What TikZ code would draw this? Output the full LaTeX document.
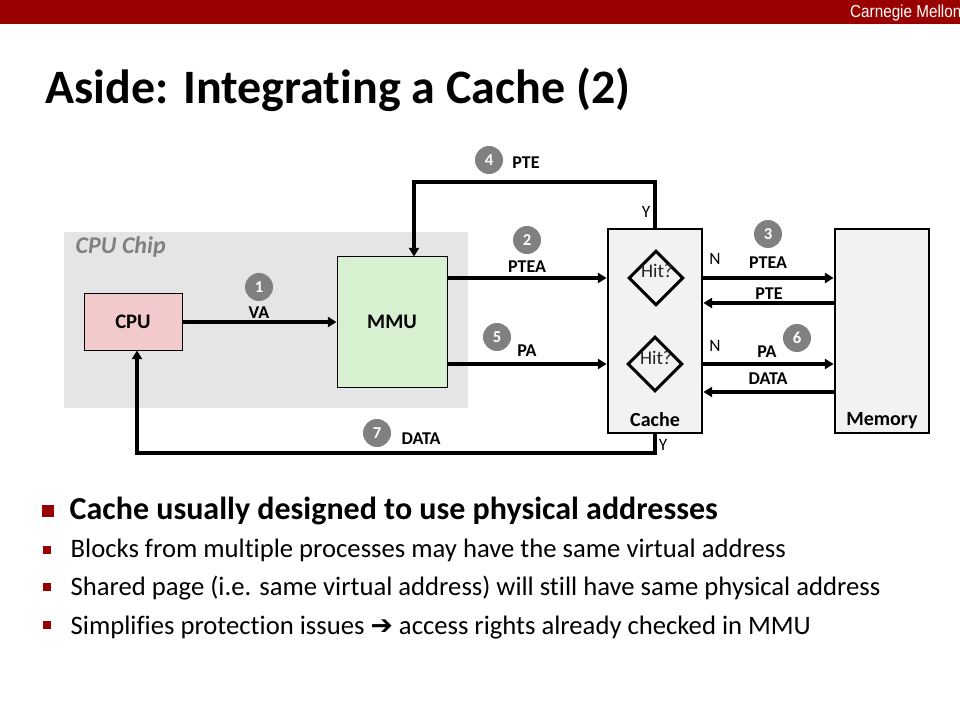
\documentclass[tikz,border=0pt]{standalone}
\usepackage{fontspec}
\setmainfont[Ligatures=NoCommon]{Carlito}
\newfontfamily\cmufont[FakeStretch=0.88]{Liberation Sans}
\newfontfamily\symfont{DejaVu Sans}
\usetikzlibrary{arrows.meta,shapes.geometric}

\definecolor{cmured}{RGB}{153,0,0}
\definecolor{chipgray}{RGB}{229,229,229}
\definecolor{cpupink}{RGB}{242,202,204}
\definecolor{mmugreen}{RGB}{215,240,208}
\definecolor{boxgray}{RGB}{242,242,242}
\definecolor{stepgray}{RGB}{128,128,128}

\tikzset{
  unit/.style={draw, line width=0.75pt, font=\bfseries\fontsize{15.5}{18}\selectfont},
  store/.style={draw, line width=1.6pt, fill=boxgray, minimum width=71pt, minimum height=153pt},
  hit/.style={diamond, draw, line width=2.2pt, aspect=1, minimum size=41pt, inner sep=0pt},
  flow/.style={line width=2.6pt, -{Triangle[length=6.5pt,width=7.5pt]}},
  lab/.style={font=\bfseries\fontsize{13.5}{15}\selectfont},
  yn/.style={font=\fontsize{13}{15}\selectfont},
  stepnum/.style={circle, fill=stepgray, text=white, minimum size=21pt, inner sep=0pt,
    font=\bfseries\fontsize{12.5}{14}\selectfont},
}

\begin{document}
\begin{tikzpicture}[x=0.75pt, y=-0.75pt]
  \fill[white] (0,0) rectangle (960,720);
  \useasboundingbox (0,0) rectangle (960,720);

  % header
  \fill[cmured] (0,0) rectangle (960,24);
  \node[anchor=east, text=white, font=\cmufont\fontsize{13}{15}\selectfont] (cmu) at (966,13) {Carnegie Mellon};
  \node[anchor=base west, font=\bfseries\fontsize{36}{40}\selectfont] (title) at (41,104) {Aside: Integrating a Cache (2)};

  % diagram
  \node[fill=chipgray, minimum width=303pt, minimum height=132pt] (chip) at (266,320) {};
  \node[anchor=west, text=stepgray, font=\bfseries\itshape\fontsize{18}{20}\selectfont] (chiplab) at (71,247) {CPU Chip};
  \node[unit, fill=cpupink, minimum width=73.5pt, minimum height=42pt] (cpu) at (133,322) {CPU};
  \node[unit, fill=mmugreen, minimum width=82.5pt, minimum height=97.5pt] (mmu) at (392,322) {MMU};
  \node[store] (cache) at (655,331) {};
  \node[store] (memory) at (882,331) {};
  \node[lab, font=\bfseries\fontsize{15}{17}\selectfont] (cachelab) at (655,420) {Cache};
  \node[lab, font=\bfseries\fontsize{15}{17}\selectfont] (memlab) at (882,421) {Memory};
  \node[hit] (hit1) at (656,278) {};
  \node[hit] (hit2) at (655,364) {};
  \node[font=\fontsize{14.5}{16}\selectfont, text=black!85] (hittext1) at (657,271) {Hit?};
  \node[font=\fontsize{14.5}{16}\selectfont, text=black!85] (hittext2) at (656,358) {Hit?};

  \coordinate (pteturn) at (414,182);
  \coordinate (databot) at (137,453);
  \draw[flow] (cpu.east) -- (mmu.west);
  \draw[flow] (mmu.east |- hit1) -- (cache.west |- hit1);
  \draw[flow] (mmu.east |- hit2) -- (cache.west |- hit2);
  \draw[flow] (cache.north) |- (pteturn) -- (pteturn |- mmu.north);
  \draw[flow] (cache.south) |- (databot) -- (databot |- cpu.south);
  \draw[flow] (cache.east |- hit1) -- (memory.west |- hit1);
  \draw[flow] (memory.west |- 0,303) -- (cache.east |- 0,303);
  \draw[flow] (cache.east |- hit2) -- (memory.west |- hit2);
  \draw[flow] (memory.west |- 0,392) -- (cache.east |- 0,392);

  \node[stepnum] (s1) at (259,287) {1};
  \node[lab] (va) at (259,313) {VA};
  \node[stepnum] (s2) at (527,240) {2};
  \node[lab] (ptea) at (527,267) {PTEA};
  \node[stepnum] (s5) at (497,337) {5};
  \node[lab] (pa) at (527,351) {PA};
  \node[stepnum] (s4) at (489,160) {4};
  \node[lab] (pte) at (526,163) {PTE};
  \node[stepnum] (s7) at (377,433) {7};
  \node[lab] (data) at (421,439) {DATA};
  \node[stepnum] (s3) at (768,234) {3};
  \node[lab] (mptea) at (768,263) {PTEA};
  \node[lab] (mpte) at (769,294) {PTE};
  \node[stepnum] (s6) at (797,338) {6};
  \node[lab] (mpa) at (767,352) {PA};
  \node[lab] (mdata) at (768,379) {DATA};
  \node[yn] (n1) at (715,259) {N};
  \node[yn] (n2) at (715,346) {N};
  \node[yn] (y1) at (646,212) {Y};
  \node[yn] (y2) at (663,445) {Y};

  % bullets
  \fill[cmured] (42,505) rectangle (54,517);
  \fill[cmured] (43,546) rectangle (51,554);
  \fill[cmured] (43,583) rectangle (51,591);
  \fill[cmured] (43,621) rectangle (51,629);
  \node[anchor=base west, font=\bfseries\fontsize{24}{28}\selectfont] (pt1) at (65,519) {Cache usually designed to use physical addresses};
  \node[anchor=base west, font=\fontsize{20}{24}\selectfont] (pt2) at (66,557) {Blocks from multiple processes may have the same virtual address};
  \node[anchor=base west, font=\fontsize{20}{24}\selectfont] (pt3) at (66,595) {Shared page (i.e. same virtual address) will still have same physical address};
  \node[anchor=base west, font=\fontsize{20}{24}\selectfont] (pt4) at (66,634) {Simplifies protection issues {\symfont ➔} access rights already checked in MMU};
\end{tikzpicture}
\end{document}
